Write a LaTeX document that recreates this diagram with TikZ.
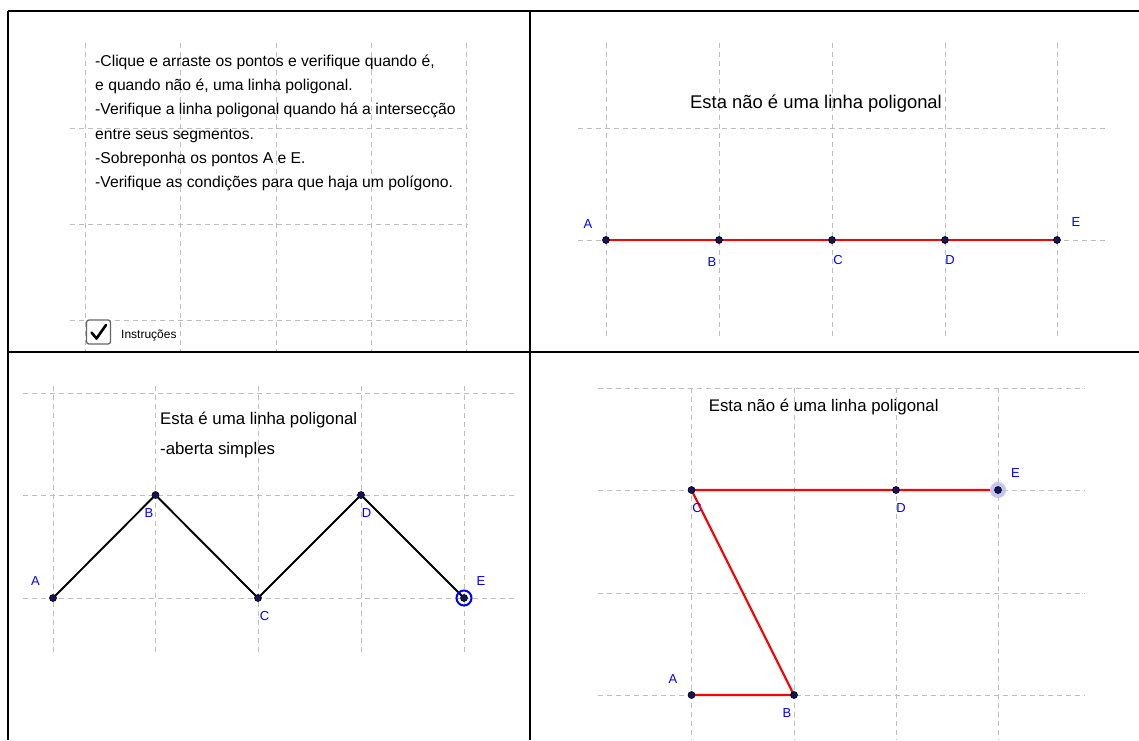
\documentclass[tikz,border=0pt]{standalone}
\usepackage{fontspec}
\setmainfont{Liberation Sans}
\usetikzlibrary{positioning,backgrounds}
\definecolor{ggblue}{HTML}{0000FF}
\definecolor{ggpoint}{HTML}{14145C}
\definecolor{ggred}{HTML}{FF0000}
\definecolor{gridgray}{HTML}{BDBDBD}
\definecolor{halo}{HTML}{C4C4F2}

\begin{document}
\begin{tikzpicture}[x=1pt,y=-1pt,
    every node/.style={inner sep=0pt},
    gridline/.style={draw=gridgray,dash pattern=on 5pt off 4pt,line width=0.8pt},
    frame/.style={draw=black,line width=1.3pt},
    pt/.style={circle,draw=black,fill=ggpoint,minimum size=7pt,line width=0.6pt},
    lbl/.style={text=ggblue,font=\fontsize{13}{15}\selectfont},
    redseg/.style={draw=ggred,line width=2.2pt},
    blackseg/.style={draw=black,line width=1.9pt},
    infoline/.style={anchor=base west,font=\fontsize{15.7}{18}\selectfont},
    titletext/.style={anchor=base west,font=\fontsize{16.8}{20}\selectfont},
  ]
  \useasboundingbox (0,0) rectangle (1139,740);

  \node[infoline] (l1) at (95,66) {-Clique e arraste os pontos e verifique quando é,};
  \node[infoline] (l2) at (95,90.3) {e quando não é, uma linha poligonal.};
  \node[infoline] (l3) at (95,114.6) {-Verifique a linha poligonal quando há a intersecção};
  \node[infoline] (l4) at (95,139) {entre seus segmentos.};
  \node[infoline] (l5) at (95,163) {-Sobreponha os pontos A e E.};
  \node[infoline] (l6) at (95,187.5) {-Verifique as condições para que haja um polígono.};
  \node[draw=black!60,fill=white,rounded corners=2.5pt,line width=1.3pt,minimum size=24pt] (chk) at (98.5,332) {};
  \node[anchor=west,font=\fontsize{12}{14}\selectfont] (instr) at (121,335) {Instruções};

  \node[anchor=base west,font=\fontsize{18.4}{22}\selectfont] (title2) at (690,108) {Esta não é uma linha poligonal};
  \node[pt] (A2) at (606,240) {};
  \node[pt] (B2) at (719,240) {};
  \node[pt] (C2) at (832,240) {};
  \node[pt] (D2) at (945,240) {};
  \node[pt] (E2) at (1057,240) {};
  \node[lbl] (a2) at (588,224) {A};
  \node[lbl] (b2) at (712,262) {B};
  \node[lbl] (c2) at (838,260) {C};
  \node[lbl] (d2) at (950,260) {D};
  \node[lbl] (e2) at (1076,222) {E};

  \node[titletext] (title3) at (160,424) {Esta é uma linha poligonal};
  \node[titletext] (sub3) at (160,454) {-aberta simples};
  \node[circle,draw=ggblue,line width=2pt,minimum size=15pt] (ring3) at (464,598) {};
  \node[pt] (A3) at (53,598) {};
  \node[pt] (B3) at (155.5,495) {};
  \node[pt] (C3) at (258,598) {};
  \node[pt] (D3) at (361,495) {};
  \node[pt] (E3) at (464,598) {};
  \node[lbl] (a3) at (35.5,581.5) {A};
  \node[lbl] (b3) at (149,513) {B};
  \node[lbl] (c3) at (264.5,615.7) {C};
  \node[lbl] (d3) at (366.5,512.7) {D};
  \node[lbl] (e3) at (481,580.7) {E};

  \node[titletext] (title4) at (708.6,411) {Esta não é uma linha poligonal};
  \node[circle,fill=halo,minimum size=16pt] (halo4) at (998,490) {};
  \node[pt] (A4) at (691.5,695) {};
  \node[pt] (B4) at (794,695) {};
  \node[pt] (C4) at (691.5,490) {};
  \node[pt] (D4) at (896,490) {};
  \node[pt] (E4) at (998,490) {};
  \node[lbl] (a4) at (673,679) {A};
  \node[lbl] (b4) at (787,713) {B};
  \node[lbl] (c4) at (697,508) {C};
  \node[lbl] (d4) at (901,508) {D};
  \node[lbl] (e4) at (1015.4,473) {E};

  \begin{scope}[on background layer]
    \fill[white] (0,0) rectangle (1139,740);
    \foreach \x in {85,180.5,276,371,466} \draw[gridline] (\x,43) -- (\x,352);
    \foreach \y in {128,224,320} \draw[gridline] (70,\y) -- (468,\y);
    \foreach \x in {606,719,832,945,1057} \draw[gridline] (\x,43) -- (\x,337);
    \foreach \y in {128,240} \draw[gridline] (578,\y) -- (1105,\y);
    \foreach \x in {53,155.5,258,361,464} \draw[gridline] (\x,386) -- (\x,652);
    \foreach \y in {393,495,598} \draw[gridline] (23,\y) -- (515,\y);
    \foreach \x in {691.5,794,896,998} \draw[gridline] (\x,388) -- (\x,740);
    \foreach \y in {388,490,593,695} \draw[gridline] (598,\y) -- (1085,\y);
    \draw[redseg] (A2.center) -- (B2.center) -- (C2.center) -- (D2.center) -- (E2.center);
    \draw[blackseg] (A3.center) -- (B3.center) -- (C3.center) -- (D3.center) -- (E3.center);
    \draw[redseg] (A4.center) -- (B4.center) -- (C4.center) -- (D4.center) -- (E4.center);
  \end{scope}
  \draw[line width=2.6pt,line cap=round,line join=round] (91.5,332.5) -- (96.5,338.5) -- (106,325);

  \draw[frame] (8,11) -- (1139,11);
  \draw[frame] (8,11) -- (8,740);
  \draw[frame] (530,11) -- (530,740);
  \draw[frame] (8,352) -- (1139,352);
\end{tikzpicture}
\end{document}
